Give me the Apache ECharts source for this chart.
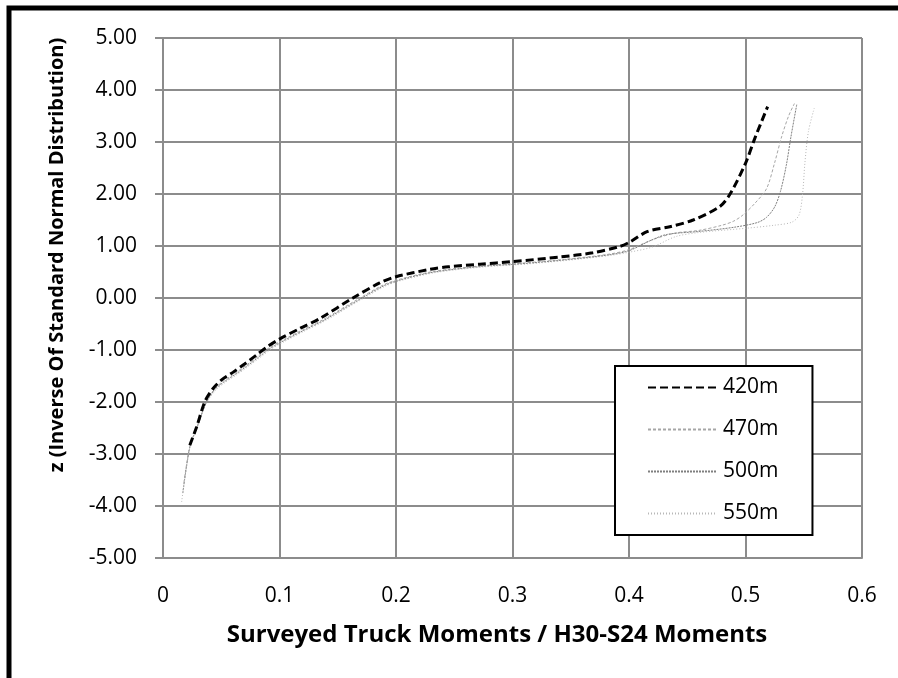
<!DOCTYPE html>
<html>
<head>
<meta charset="utf-8">
<script src="https://cdn.jsdelivr.net/npm/echarts@6/dist/echarts.min.js"></script>
<style>
  html, body { margin: 0; padding: 0; background: #fff; }
  #chart { width: 898px; height: 678px; }
</style>
</head>
<body>
<div id="chart"></div>
<script>
// Ratio of surveyed truck moments to H30-S24 moments (x) against the
// inverse standard normal value (z) for four span lengths.
const seriesNames = ['420m', '470m', '500m', '550m'];

const span420 = [
  [0.023, -2.83], [0.029, -2.47], [0.036, -1.99], [0.043, -1.74], [0.050, -1.58],
  [0.060, -1.43], [0.070, -1.27], [0.080, -1.10], [0.090, -0.93], [0.100, -0.79],
  [0.118, -0.58], [0.135, -0.39], [0.163, 0.00], [0.186, 0.29], [0.200, 0.41],
  [0.229, 0.55], [0.245, 0.60], [0.272, 0.65], [0.300, 0.70], [0.341, 0.79],
  [0.369, 0.87], [0.392, 0.99], [0.401, 1.08], [0.416, 1.28], [0.435, 1.37],
  [0.455, 1.50], [0.478, 1.76], [0.487, 2.01], [0.500, 2.59], [0.508, 3.07],
  [0.519, 3.68]
];
const span470 = [
  [0.018, -3.55], [0.023, -2.86], [0.029, -2.49], [0.037, -2.01], [0.044, -1.76],
  [0.051, -1.61], [0.061, -1.46], [0.071, -1.30], [0.081, -1.13], [0.091, -0.96],
  [0.102, -0.82], [0.120, -0.61], [0.137, -0.42], [0.166, -0.04], [0.189, 0.25],
  [0.203, 0.36], [0.232, 0.51], [0.274, 0.62], [0.302, 0.66], [0.343, 0.74],
  [0.382, 0.84], [0.400, 0.93], [0.420, 1.12], [0.440, 1.25], [0.460, 1.30],
  [0.480, 1.40], [0.490, 1.48], [0.498, 1.60], [0.508, 1.82], [0.518, 2.10],
  [0.525, 2.60], [0.531, 3.10], [0.537, 3.50], [0.542, 3.74]
];
const span500 = [
  [0.017, -3.75], [0.023, -2.87], [0.029, -2.50], [0.037, -2.02], [0.044, -1.77],
  [0.052, -1.62], [0.062, -1.47], [0.072, -1.31], [0.082, -1.14], [0.092, -0.97],
  [0.103, -0.83], [0.121, -0.62], [0.138, -0.43], [0.167, -0.05], [0.190, 0.24],
  [0.204, 0.35], [0.233, 0.50], [0.275, 0.61], [0.303, 0.65], [0.344, 0.73],
  [0.383, 0.83], [0.400, 0.91], [0.418, 1.10], [0.432, 1.22], [0.460, 1.28],
  [0.490, 1.36], [0.510, 1.45], [0.518, 1.55], [0.525, 1.75], [0.530, 2.05],
  [0.535, 2.55], [0.539, 3.10], [0.544, 3.72]
];
const span550 = [
  [0.016, -3.92], [0.023, -2.88], [0.029, -2.51], [0.037, -2.03], [0.045, -1.78],
  [0.053, -1.63], [0.063, -1.48], [0.073, -1.32], [0.083, -1.15], [0.093, -0.98],
  [0.104, -0.84], [0.122, -0.63], [0.139, -0.44], [0.168, -0.06], [0.191, 0.23],
  [0.205, 0.34], [0.234, 0.49], [0.276, 0.60], [0.304, 0.64], [0.345, 0.72],
  [0.384, 0.82], [0.400, 0.88], [0.420, 0.98], [0.440, 1.18], [0.460, 1.26],
  [0.500, 1.34], [0.525, 1.40], [0.540, 1.46], [0.546, 1.60], [0.549, 2.00],
  [0.551, 2.60], [0.554, 3.20], [0.559, 3.65]
];

const xTicks = { min: 0, max: 0.6, step: 0.1 };
const yTicks = { min: -5, max: 5, step: 1 };

const FONT = 'Open Sans';
const GRID_GREY = '#8c8c8c';

const chart = echarts.init(document.getElementById('chart'), null, { renderer: 'canvas' });

function thinLine(name, data, color, dash) {
  return {
    name, type: 'line', data, smooth: 0.3, symbol: 'none',
    lineStyle: { color, width: 1, type: dash },
    itemStyle: { color },
    z: 2
  };
}

chart.setOption({
  animation: false,
  backgroundColor: '#ffffff',
  grid: { left: 163, right: 36, top: 38, bottom: 120, containLabel: false },
  xAxis: {
    type: 'value',
    min: xTicks.min, max: xTicks.max, interval: xTicks.step,
    axisLine: { show: true, onZero: false, lineStyle: { color: GRID_GREY, width: 2 } },
    axisTick: { show: false },
    axisLabel: {
      margin: 28, color: '#000', fontFamily: FONT, fontSize: 21,
      formatter: v => String(+v.toFixed(1))
    },
    splitLine: { show: true, lineStyle: { color: GRID_GREY, width: 2 } }
  },
  yAxis: {
    type: 'value',
    min: yTicks.min, max: yTicks.max, interval: yTicks.step,
    axisLine: { show: true, onZero: false, lineStyle: { color: GRID_GREY, width: 2 } },
    axisTick: { show: true, length: 8, lineStyle: { color: GRID_GREY, width: 2 } },
    axisLabel: {
      margin: 26, color: '#000', fontFamily: FONT, fontSize: 21,
      formatter: v => v.toFixed(2)
    },
    splitLine: { show: true, lineStyle: { color: GRID_GREY, width: 2 } }
  },
  legend: {
    orient: 'vertical',
    left: 615, top: 366,
    padding: [11, 34, 11, 32],
    itemWidth: 68, itemHeight: 14, itemGap: 21,
    backgroundColor: '#fff',
    borderColor: '#000', borderWidth: 2,
    itemStyle: { opacity: 0, borderWidth: 0 },
    textStyle: { color: '#000', fontFamily: FONT, fontSize: 21, padding: [0, 0, 0, 2] },
    data: seriesNames
  },
  series: [
    {
      name: seriesNames[0], type: 'line', data: span420, smooth: 0.3, symbol: 'none',
      lineStyle: { color: '#000', width: 3, type: [8, 4] },
      itemStyle: { color: '#000' },
      z: 5
    },
    thinLine(seriesNames[1], span470, '#a6a6a6', [3, 2]),
    thinLine(seriesNames[2], span500, '#7f7f7f', [2, 1]),
    thinLine(seriesNames[3], span550, '#b8b8b8', [1, 2])
  ],
  graphic: [
    {
      type: 'rect', silent: true, z: 100,
      shape: { x: 9, y: 8, width: 1200, height: 1200 },
      style: { fill: 'none', stroke: '#000', lineWidth: 5 }
    },
    {
      type: 'text', silent: true, z: 100,
      x: 57, y: 255, rotation: Math.PI / 2,
      style: {
        text: 'z (Inverse Of Standard Normal Distribution)',
        fill: '#000', font: 'bold 20px "' + FONT + '"',
        align: 'center', verticalAlign: 'middle'
      }
    },
    {
      type: 'text', silent: true, z: 100,
      x: 497, y: 635,
      style: {
        text: 'Surveyed Truck Moments / H30-S24 Moments',
        fill: '#000', font: 'bold 24px "' + FONT + '"',
        align: 'center', verticalAlign: 'middle'
      }
    }
  ]
});
</script>
</body>
</html>
